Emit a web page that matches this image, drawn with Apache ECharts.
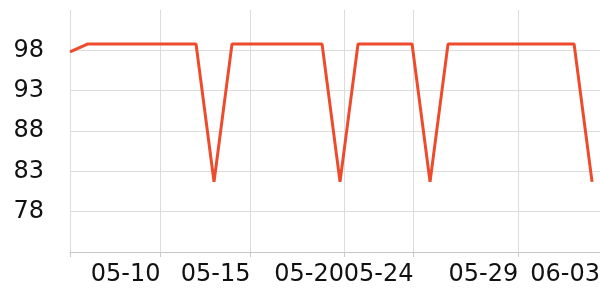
<!DOCTYPE html>
<html>
<head>
<meta charset="utf-8">
<script src="https://cdn.jsdelivr.net/npm/echarts@6/dist/echarts.min.js"></script>
<style>
html,body{margin:0;padding:0;background:#fff;}
#chart{width:600px;height:300px;}
</style>
</head>
<body>
<div id="chart"></div>
<script>
// ---- data ----
var dates = [
  '2024-05-05','2024-05-06','2024-05-07','2024-05-08','2024-05-09','2024-05-10',
  '2024-05-11','2024-05-12','2024-05-13','2024-05-14','2024-05-15','2024-05-16',
  '2024-05-17','2024-05-18','2024-05-19','2024-05-20','2024-05-21','2024-05-22',
  '2024-05-23','2024-05-24','2024-05-25','2024-05-26','2024-05-27','2024-05-28',
  '2024-05-29','2024-05-30','2024-05-31','2024-06-01','2024-06-02','2024-06-03'
];
var values = [
  97.8, 98.8, 98.8, 98.8, 98.8, 98.8, 98.8, 98.8, 81.7, 98.8,
  98.8, 98.8, 98.8, 98.8, 98.8, 81.7, 98.8, 98.8, 98.8, 98.8,
  81.7, 98.8, 98.8, 98.8, 98.8, 98.8, 98.8, 98.8, 98.8, 81.7
];
// x-axis tick / label times
var xMin = '2024-05-05 00:00';
var xMax = '2024-06-03 10:35';
var xTickTimes = [
  '2024-05-05 00:00','2024-05-10 00:40','2024-05-15 00:40','2024-05-20 05:15',
  '2024-05-24 01:55','2024-05-29 21:35','2024-06-03 10:35'
];
var xLabelTimes = xTickTimes.slice(1);
// y-axis
var yMin = 73, yMax = 103, yStep = 5;

// ---- chart ----
function t(s){ return +echarts.time.parse(s); }
var chart = echarts.init(document.getElementById('chart'), null, {renderer:'canvas'});
var font = 'DejaVu Sans';
chart.setOption({
  animation: false,
  backgroundColor: '#ffffff',
  grid: {left: 70, right: 0, top: 10, bottom: 48, containLabel: false, outerBoundsMode: 'none'},
  xAxis: {
    type: 'value',
    min: t(xMin),
    max: t(xMax),
    axisLine: {show: true, lineStyle: {color: '#c8c8c8', width: 1}},
    axisTick: {show: true, length: 5, lineStyle: {color: '#c8c8c8'}, customValues: xTickTimes.map(t)},
    splitLine: {show: true, showMinLine: true, showMaxLine: true, lineStyle: {color: '#dcdcdc', width: 1}},
    axisLabel: {
      customValues: xLabelTimes.map(t),
      align: 'right',
      margin: 11,
      hideOverlap: false,
      showMinLabel: true,
      showMaxLabel: true,
      color: '#111111',
      fontFamily: font,
      fontSize: 24,
      formatter: function(v){ return echarts.time.format(v, '{MM}-{dd}', false); }
    }
  },
  yAxis: {
    type: 'value',
    min: yMin,
    max: yMax,
    interval: yStep,
    axisLine: {show: false},
    axisTick: {show: false},
    splitLine: {show: true, showMinLine: false, showMaxLine: false, lineStyle: {color: '#dcdcdc', width: 1}},
    axisLabel: {
      showMinLabel: false,
      showMaxLabel: false,
      margin: 26,
      color: '#111111',
      fontFamily: font,
      fontSize: 24
    }
  },
  series: [{
    type: 'line',
    data: dates.map(function(d, i){ return [t(d), values[i]]; }),
    showSymbol: false,
    symbol: 'none',
    lineStyle: {color: '#ee4a2c', width: 3},
    itemStyle: {color: '#ee4a2c'}
  }]
});
</script>
</body>
</html>
